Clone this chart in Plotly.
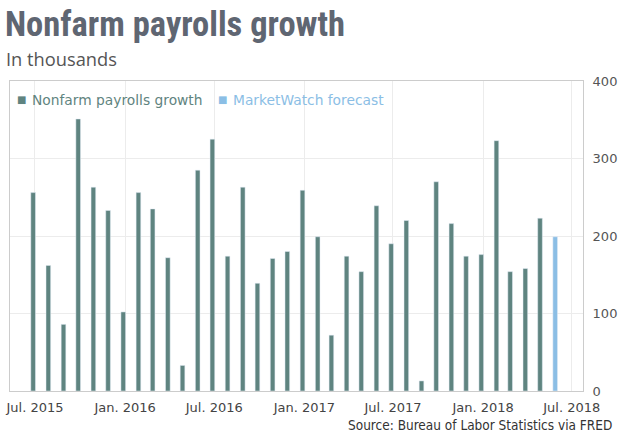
import plotly.graph_objects as go

# monthly change in nonfarm payrolls, thousands
months = [
    "2015-07-01", "2015-08-01", "2015-09-01", "2015-10-01", "2015-11-01", "2015-12-01",
    "2016-01-01", "2016-02-01", "2016-03-01", "2016-04-01", "2016-05-01", "2016-06-01",
    "2016-07-01", "2016-08-01", "2016-09-01", "2016-10-01", "2016-11-01", "2016-12-01",
    "2017-01-01", "2017-02-01", "2017-03-01", "2017-04-01", "2017-05-01", "2017-06-01",
    "2017-07-01", "2017-08-01", "2017-09-01", "2017-10-01", "2017-11-01", "2017-12-01",
    "2018-01-01", "2018-02-01", "2018-03-01", "2018-04-01", "2018-05-01",
]
payrolls = [
    256, 162, 86, 351, 263, 233,
    102, 256, 235, 172, 33, 285,
    325, 174, 263, 139, 171, 180,
    259, 199, 72, 174, 154, 239,
    190, 220, 13, 270, 216, 174,
    176, 323, 154, 158, 223,
]
forecast_month = ["2018-06-01"]
forecast = [199]

tick_dates = ["2015-07-01", "2016-01-01", "2016-07-01", "2017-01-01",
              "2017-07-01", "2018-01-01", "2018-07-01"]
tick_labels = ["Jul. 2015", "Jan. 2016", "Jul. 2016", "Jan. 2017",
               "Jul. 2017", "Jan. 2018", "Jul. 2018"]

TEAL = "#5f8480"
BLUE = "#8bbee5"
DAY = 86400000
BAR_W = 9.5 * DAY
BAR_OFF = -8.5 * DAY  # bars sit just left of the month gridline

fig = go.Figure()
fig.add_trace(go.Bar(x=months, y=payrolls, name="Nonfarm payrolls growth",
                     marker_color=TEAL, width=BAR_W, offset=BAR_OFF))
fig.add_trace(go.Bar(x=forecast_month, y=forecast, name="MarketWatch forecast",
                     marker_color=BLUE, width=BAR_W, offset=BAR_OFF))

fig.update_layout(
    width=629, height=435,
    margin=dict(l=6, r=46, t=81, b=44),
    paper_bgcolor="white", plot_bgcolor="white",
    barmode="overlay",
    showlegend=False,
    font=dict(family="DejaVu Sans", size=13, color="#444"),
)

fig.update_xaxes(
    type="date", range=["2015-05-11", "2018-07-24"],
    tickvals=tick_dates, ticktext=tick_labels,
    showgrid=True, gridcolor="#ececec",
    showline=True, linecolor="#cccccc", mirror=True,
    ticks="outside", ticklen=4, tickcolor="rgba(0,0,0,0)",
    tickfont=dict(family="DejaVu Sans", size=13, color="#444"),
)
fig.update_yaxes(
    side="right", range=[0, 400], tickvals=[0, 100, 200, 300, 400],
    showgrid=True, gridcolor="#ececec",
    showline=True, linecolor="#cccccc", mirror=True,
    ticks="outside", ticklen=6, tickcolor="rgba(0,0,0,0)",
    tickfont=dict(family="DejaVu Sans", size=13, color="#555"),
    zeroline=False,
)

# titles and legend drawn as text
fig.add_annotation(text="<b>Nonfarm payrolls growth</b>", xref="paper", yref="paper",
                   x=-0.012, y=1.183, xanchor="left", yanchor="middle", showarrow=False,
                   font=dict(family="Roboto Condensed, Roboto", size=34.5, color="#5f6672"))
fig.add_annotation(text="In thousands", xref="paper", yref="paper",
                   x=-0.01, y=1.073, xanchor="left", yanchor="middle", showarrow=False,
                   font=dict(family="Open Sans", size=18.3, color="#555"))

fig.add_annotation(text="■", xref="paper", yref="paper", x=0.0199, y=0.939,
                   xanchor="center", yanchor="middle", showarrow=False,
                   font=dict(family="DejaVu Sans", size=10, color=TEAL))
fig.add_annotation(text="Nonfarm payrolls growth", xref="paper", yref="paper", x=0.0355, y=0.939,
                   xanchor="left", yanchor="middle", showarrow=False,
                   font=dict(family="DejaVu Sans", size=13.8, color=TEAL))
fig.add_annotation(text="■", xref="paper", yref="paper", x=0.370, y=0.939,
                   xanchor="center", yanchor="middle", showarrow=False,
                   font=dict(family="DejaVu Sans", size=10, color=BLUE))
fig.add_annotation(text="MarketWatch forecast", xref="paper", yref="paper", x=0.3856, y=0.939,
                   xanchor="left", yanchor="middle", showarrow=False,
                   font=dict(family="DejaVu Sans", size=13.8, color=BLUE))

fig.add_annotation(text="Source: Bureau of Labor Statistics via FRED", xref="paper", yref="paper",
                   x=1.054, y=-0.11, xanchor="right", yanchor="middle", showarrow=False,
                   font=dict(family="DejaVu Sans Condensed", size=13.5, color="#333"))

# drop the page's default body margin so the figure sits at the window corner
fig.write_html("out.html", config={"displayModeBar": False},
               post_script="document.body.style.margin='0';")
